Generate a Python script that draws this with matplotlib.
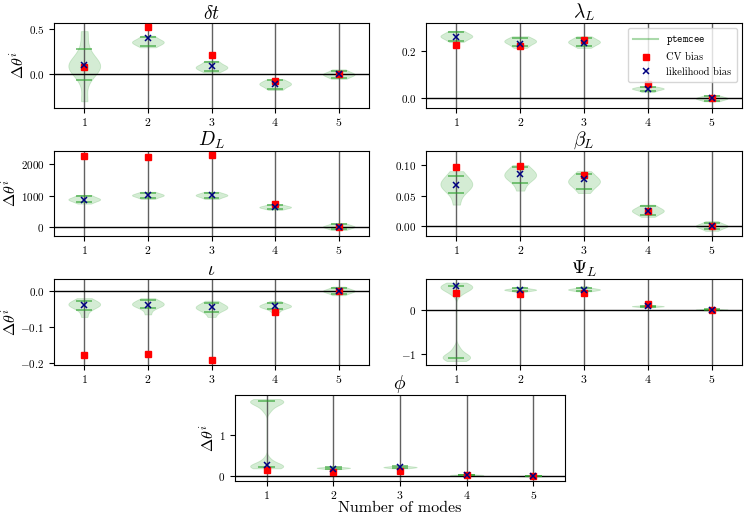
import matplotlib
matplotlib.use('Agg')
import matplotlib.pyplot as plt
from matplotlib.lines import Line2D

plt.rcParams['font.family'] = 'serif'
plt.rcParams['font.serif'] = ['cmr10']
plt.rcParams['mathtext.fontset'] = 'cm'
plt.rcParams['axes.formatter.use_mathtext'] = True
plt.rcParams['font.size'] = 8
plt.rcParams['xtick.labelsize'] = 8.5
plt.rcParams['ytick.labelsize'] = 8
plt.rcParams['xtick.major.pad'] = 2.5

GREEN = '#2ca02c'
modes = [1, 2, 3, 4, 5]

# ---- delta t ----
dt_samples = [
    [-0.30, -0.06, 0.05, 0.08, 0.10, 0.11, 0.14, 0.28, 0.48],
    [0.30, 0.315, 0.34, 0.355, 0.36, 0.365, 0.38, 0.41, 0.43],
    [0.02, 0.037, 0.06, 0.075, 0.08, 0.085, 0.10, 0.133, 0.15],
    [-0.175, -0.163, -0.13, -0.115, -0.11, -0.105, -0.09, -0.068, -0.055],
    [-0.05, -0.04, -0.015, -0.005, 0.0, 0.005, 0.015, 0.04, 0.055],
]
dt_bw = [0.45, None, None, None, None]
dt_cv = [0.08, 0.53, 0.21, -0.07, 0.0]
dt_lik = [0.10, 0.40, 0.09, -0.11, 0.0]
dt_ticks = [0.0, 0.5]

# ---- lambda_L ----
lam_samples = [
    [0.238, 0.244, 0.255, 0.26, 0.262, 0.264, 0.27, 0.279, 0.285],
    [0.213, 0.22, 0.232, 0.238, 0.24, 0.242, 0.248, 0.256, 0.262],
    [0.213, 0.22, 0.231, 0.236, 0.238, 0.240, 0.246, 0.256, 0.262],
    [0.026, 0.03, 0.036, 0.039, 0.04, 0.041, 0.044, 0.046, 0.05],
    [-0.013, -0.01, -0.004, -0.001, 0.0, 0.001, 0.004, 0.01, 0.013],
]
lam_bw = [None] * 5
lam_cv = [0.225, 0.22, 0.245, 0.06, 0.0]
lam_lik = [0.26, 0.23, 0.235, 0.04, 0.0]
lam_ticks = [0.0, 0.2]

# ---- D_L ----
dl_samples = [
    [740, 783, 840, 870, 880, 890, 920, 985, 1020],
    [890, 921, 975, 1000, 1010, 1020, 1045, 1091, 1120],
    [890, 920, 975, 1000, 1010, 1020, 1045, 1090, 1120],
    [540, 568, 605, 622, 630, 638, 655, 697, 720],
    [-110, -84, -30, -10, 0, 10, 30, 87, 110],
]
dl_bw = [None] * 5
dl_cv = [2270, 2240, 2290, 740, 0]
dl_lik = [870, 1020, 1030, 620, 0]
dl_ticks = [0, 1000, 2000]

# ---- beta_L ----
beta_samples = [
    [0.035, 0.0536, 0.062, 0.066, 0.068, 0.070, 0.074, 0.082, 0.09],
    [0.058, 0.071, 0.078, 0.082, 0.083, 0.085, 0.088, 0.096, 0.10],
    [0.054, 0.061, 0.068, 0.071, 0.073, 0.075, 0.078, 0.085, 0.09],
    [0.015, 0.018, 0.022, 0.024, 0.025, 0.026, 0.028, 0.032, 0.035],
    [-0.008, -0.0055, -0.002, -0.0005, 0.0, 0.0005, 0.002, 0.0055, 0.008],
]
beta_bw = [None] * 5
beta_cv = [0.097, 0.099, 0.083, 0.024, 0.0]
beta_lik = [0.067, 0.085, 0.077, 0.024, 0.0]
beta_ticks = [0.0, 0.05, 0.10]

# ---- iota ----
iota_samples = [
    [-0.072, -0.053, -0.043, -0.039, -0.038, -0.037, -0.033, -0.0276, -0.02],
    [-0.065, -0.048, -0.041, -0.038, -0.037, -0.036, -0.032, -0.026, -0.02],
    [-0.072, -0.059, -0.05, -0.047, -0.046, -0.045, -0.041, -0.034, -0.027],
    [-0.06, -0.05, -0.045, -0.043, -0.042, -0.041, -0.039, -0.034, -0.028],
    [-0.012, -0.008, -0.003, -0.001, 0.0, 0.001, 0.003, 0.008, 0.012],
]
iota_bw = [None] * 5
iota_cv = [-0.177, -0.174, -0.192, -0.057, 0.0]
iota_lik = [-0.038, -0.038, -0.045, -0.041, 0.0]
iota_ticks = [-0.2, -0.1, 0.0]

# ---- Psi_L ----
psi_samples = [
    [-1.16, -1.12, -1.09, -1.08, -1.06, -1.03, -0.97, -0.86,
     0.35, 0.42, 0.46, 0.49, 0.51, 0.52, 0.54, 0.57, 0.61],
    [0.40, 0.43, 0.44, 0.445, 0.45, 0.455, 0.46, 0.49, 0.52],
    [0.41, 0.43, 0.445, 0.45, 0.455, 0.46, 0.47, 0.49, 0.53],
    [0.05, 0.06, 0.07, 0.074, 0.076, 0.078, 0.082, 0.09, 0.10],
    [-0.02, -0.012, -0.005, -0.002, 0.0, 0.002, 0.005, 0.012, 0.02],
]
psi_bw = [0.1, None, None, None, None]
psi_cv = [0.37, 0.355, 0.37, 0.12, 0.0]
psi_lik = [0.54, 0.445, 0.445, 0.07, 0.0]
psi_ticks = [-1, 0]

# ---- phi ----
phi_samples = [
    [0.19, 0.21, 0.23, 0.24, 0.25, 0.27, 0.31, 0.42,
     1.60, 1.70, 1.76, 1.80, 1.82, 1.84, 1.85, 1.87, 1.89],
    [0.17, 0.18, 0.19, 0.195, 0.2, 0.205, 0.21, 0.215, 0.225],
    [0.19, 0.2, 0.21, 0.215, 0.22, 0.225, 0.23, 0.24, 0.25],
    [0.01, 0.015, 0.022, 0.025, 0.027, 0.029, 0.032, 0.038, 0.045],
    [-0.012, -0.008, -0.003, -0.001, 0.0, 0.001, 0.003, 0.008, 0.012],
]
phi_bw = [0.1, None, None, None, None]
phi_cv = [0.15, 0.09, 0.12, 0.02, 0.0]
phi_lik = [0.27, 0.18, 0.23, 0.03, 0.0]
phi_ticks = [0, 1]

panels = [
    (r'$\delta t$', dt_samples, dt_bw, dt_cv, dt_lik, dt_ticks, (-0.375, 0.57), [0.0723, 0.7927, 0.4217, 0.1631], True),
    (r'$\lambda_L$', lam_samples, lam_bw, lam_cv, lam_lik, lam_ticks, (-0.041, 0.318), [0.5703, 0.7927, 0.4230, 0.1631], False),
    (r'$D_L$', dl_samples, dl_bw, dl_cv, dl_lik, dl_ticks, (-300, 2430), [0.0723, 0.5470, 0.4217, 0.1631], True),
    (r'$\beta_L$', beta_samples, beta_bw, beta_cv, beta_lik, beta_ticks, (-0.0165, 0.123), [0.5703, 0.5470, 0.4230, 0.1631], False),
    (r'$\iota$', iota_samples, iota_bw, iota_cv, iota_lik, iota_ticks, (-0.205, 0.033), [0.0723, 0.2994, 0.4217, 0.1651], True),
    (r'$\Psi_L$', psi_samples, psi_bw, psi_cv, psi_lik, psi_ticks, (-1.25, 0.69), [0.5703, 0.2994, 0.4230, 0.1651], False),
    (r'$\phi$', phi_samples, phi_bw, phi_cv, phi_lik, phi_ticks, (-0.12, 1.99), [0.3146, 0.0768, 0.4418, 0.1651], True),
]

fig = plt.figure(figsize=(7.47, 5.21), dpi=100)

for k, (title, samples, bws, cv, lik, ticks, ylim, rect, ylab) in enumerate(panels):
    ax = fig.add_axes(rect)
    for pos, s, bw in zip(modes, samples, bws):
        parts = ax.violinplot([s], positions=[pos], widths=0.5, showextrema=False,
                              quantiles=[[0.125, 0.875]], bw_method=bw)
        for b in parts['bodies']:
            b.set_facecolor(GREEN)
            b.set_edgecolor(GREEN)
            b.set_linewidth(0.6)
            b.set_alpha(0.2)
        parts['cquantiles'].set_color(GREEN)
        parts['cquantiles'].set_alpha(0.75)
        parts['cquantiles'].set_linewidth(1.1)
    ax.axhline(0, color='k', lw=1.0, zorder=1.6)
    ax.grid(axis='x', color='#505050', lw=1.0, alpha=0.9)
    ax.plot(modes, cv, 's', color='red', ms=4.5, zorder=3, label='CV bias')
    ax.plot(modes, lik, 'x', color='navy', ms=5, mew=1.1, zorder=4, label='likelihood bias')
    ax.set_xticks(modes)
    ax.set_xlim(0.525, 5.475)
    ax.set_yticks(ticks)
    ax.set_ylim(*ylim)
    ax.set_title(title, fontsize=14, pad=2)
    if ylab:
        ax.set_ylabel(r'$\Delta\theta^i$', fontsize=11.5, labelpad=1)
    if k == 1:
        handles = [Line2D([], [], color=GREEN, alpha=0.4, lw=1.5, label=r'$\mathtt{ptemcee}$')]
        h, l = ax.get_legend_handles_labels()
        ax.legend(handles + h, [handles[0].get_label()] + l, loc='upper right',
                  fontsize=7.5, handlelength=2.4, borderpad=0.5, labelspacing=0.5)
    if k == 6:
        ax.set_xlabel('Number of modes', fontsize=11.5, labelpad=0)

fig.savefig('out.png', dpi=100)
plt.close()
